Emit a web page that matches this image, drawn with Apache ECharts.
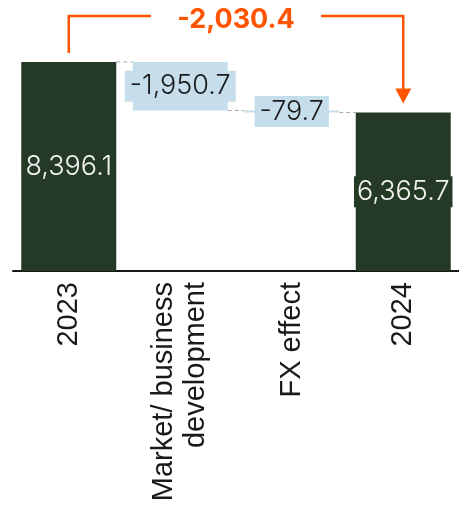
<!DOCTYPE html>
<html>
<head>
<meta charset="utf-8">
<script src="https://cdn.jsdelivr.net/npm/echarts@6/dist/echarts.min.js"></script>
<style>
  html, body { margin: 0; padding: 0; background: #fff; }
  #chart { width: 459px; height: 505px; }
</style>
</head>
<body>
<div id="chart"></div>
<script>
// Bridge from 2023 to 2024
const categories = ['2023', 'Market/ business\ndevelopment', 'FX effect', '2024'];
const values = [8396.1, -1950.7, -79.7, 6365.7];
const isTotal = [true, false, false, true];

const DARK = '#243a26';
const LIGHT = '#c6deeb';
const ORANGE = '#ff5500';
const BAR_W = 95;

// Stack offsets and visible heights for each step
const baseData = [];
const barData = [];
const levels = [];
let level = 0;
values.forEach((v, i) => {
  if (isTotal[i]) {
    baseData.push(0);
    barData.push(v);
    level = v;
  } else {
    const next = level + v;
    baseData.push(Math.min(level, next));
    barData.push(Math.abs(v));
    level = next;
  }
  levels.push(level);
});

const fmt = v => (v < 0 ? '-' : '') + Math.abs(v).toLocaleString('en-US', { minimumFractionDigits: 1, maximumFractionDigits: 1 });

const firstIdx = 0;
const lastIdx = values.length - 1;
const totalChange = +(values[lastIdx] - values[firstIdx]).toFixed(1);

const chart = echarts.init(document.getElementById('chart'), null, { renderer: 'canvas' });

chart.setOption({
  animation: false,
  grid: { left: 13, right: -9, top: 22, bottom: 234, containLabel: false },
  xAxis: {
    type: 'category',
    data: categories,
    axisLine: { show: true, lineStyle: { color: '#1a1a1a', width: 2 } },
    axisTick: { show: false },
    axisLabel: {
      rotate: 90,
      interval: 0,
      margin: 11,
      fontFamily: 'Liberation Sans, Arial, sans-serif',
      fontSize: 29,
      lineHeight: 32,
      color: '#1a1a1a'
    }
  },
  yAxis: {
    type: 'value',
    min: 0,
    max: 10000,
    show: false,
    splitLine: { show: false }
  },
  series: [
    {
      type: 'bar',
      stack: 'wf',
      barWidth: BAR_W,
      silent: true,
      itemStyle: { color: 'transparent' },
      data: baseData,
      z: 2
    },
    {
      type: 'bar',
      stack: 'wf',
      barWidth: BAR_W,
      z: 2,
      data: barData.map((v, i) => ({
        value: v,
        itemStyle: { color: isTotal[i] ? DARK : LIGHT },
        label: {
          show: true,
          position: 'inside',
          formatter: () => fmt(values[i]),
          fontFamily: 'Inter, sans-serif',
          fontWeight: 300,
          fontSize: 27,
          lineHeight: 27,
          color: isTotal[i] ? '#f2f2f2' : '#1a1a1a',
          backgroundColor: isTotal[i] ? DARK : LIGHT,
          padding: isTotal[i] ? [2, 3] : [2, 5]
        }
      }))
    },
    {
      // dashed connectors between consecutive bars
      type: 'custom',
      z: 1,
      silent: true,
      data: levels.slice(0, -1).map((lv, i) => [i, lv]),
      renderItem: (params, api) => {
        const p = api.coord([api.value(0), api.value(1)]);
        const w = api.size([1, 0])[0];
        return {
          type: 'line',
          shape: { x1: p[0] + BAR_W / 2, y1: p[1], x2: p[0] + w - BAR_W / 2, y2: p[1] },
          style: { stroke: '#aaaaaa', lineWidth: 1, lineDash: [4, 3] }
        };
      }
    },
    {
      // total-change bracket with arrow
      type: 'custom',
      z: 5,
      silent: true,
      clip: false,
      encode: { x: [0, 2], y: [1, 3] },
      data: [[firstIdx, values[firstIdx], lastIdx, values[lastIdx]]],
      renderItem: (params, api) => {
        const a = api.coord([api.value(0), api.value(1)]);
        const b = api.coord([api.value(2), api.value(3)]);
        const topY = a[1] - 46;
        const mid = (a[0] + b[0]) / 2;
        const gap = 85;
        const st = { stroke: ORANGE, lineWidth: 2.5, fill: null };
        return {
          type: 'group',
          children: [
            { type: 'polyline', shape: { points: [[a[0], a[1] - 9], [a[0], topY], [mid - gap, topY]] }, style: st },
            { type: 'polyline', shape: { points: [[mid + gap, topY], [b[0], topY], [b[0], b[1] - 22]] }, style: st },
            { type: 'polygon', shape: { points: [[b[0] - 8, b[1] - 24], [b[0] + 8, b[1] - 24], [b[0], b[1] - 9]] }, style: { fill: ORANGE } },
            {
              type: 'text',
              x: mid,
              y: topY + 4,
              style: {
                text: fmt(totalChange),
                fill: ORANGE,
                font: '700 27px Inter, sans-serif',
                textAlign: 'center',
                textVerticalAlign: 'middle'
              }
            }
          ]
        };
      }
    }
  ]
});
</script>
</body>
</html>
